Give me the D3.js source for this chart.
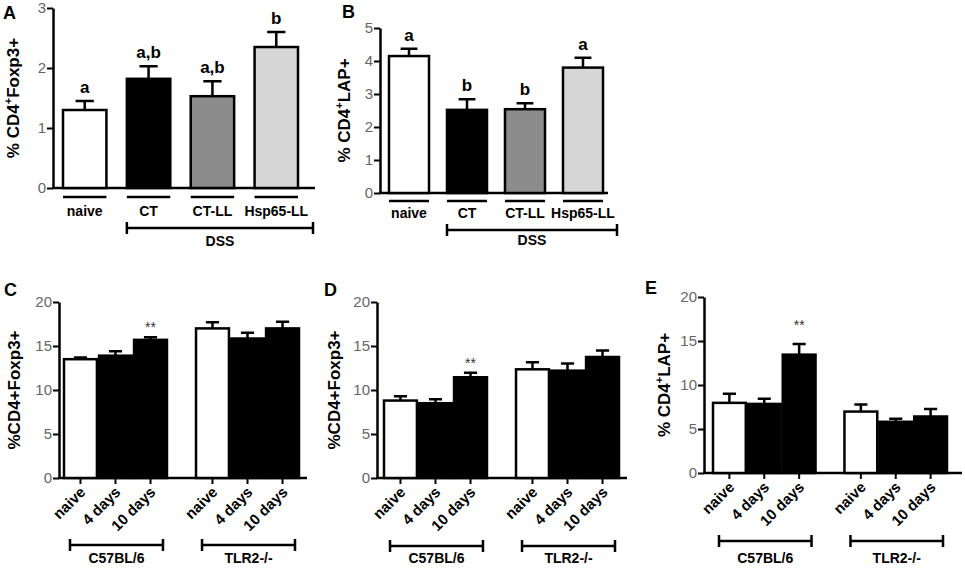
<!DOCTYPE html>
<html>
<head>
<meta charset="utf-8">
<script src="https://cdn.jsdelivr.net/npm/d3@7"></script>
<style>
  body { margin: 0; background: #fff; }
  svg text { font-family: Arial, 'Liberation Sans', sans-serif; }
</style>
</head>
<body>
<div id="fig"></div>
<script>
/* =========================================================
   DATA
========================================================= */

// panels A, B : DSS treatment groups
const dssGroups = ['naive', 'CT', 'CT-LL', 'Hsp65-LL'];
const dssLabel = 'DSS';

const valuesA = [1.3, 1.82, 1.53, 2.35];
const errorsA = [0.15, 0.21, 0.25, 0.25];
const lettersA = ['a', 'a,b', 'a,b', 'b'];

const valuesB = [4.15, 2.52, 2.54, 3.8];
const errorsB = [0.22, 0.32, 0.18, 0.3];
const lettersB = ['a', 'b', 'b', 'a'];

// panels C, D, E : strain x time point
const strains = ['C57BL/6', 'TLR2-/-'];
const timepoints = ['naive', '4 days', '10 days'];

const valuesC = [[13.5, 13.9, 15.7], [17.0, 15.85, 17.0]];
const errorsC = [[0.2, 0.5, 0.3], [0.7, 0.65, 0.75]];
const starsC = [['', '', '**'], ['', '', '']];

const valuesD = [[8.8, 8.5, 11.45], [12.35, 12.2, 13.75]];
const errorsD = [[0.5, 0.45, 0.5], [0.8, 0.8, 0.75]];
const starsD = [['', '', '**'], ['', '', '']];

const valuesE = [[7.97, 7.85, 13.45], [6.98, 5.82, 6.42]];
const errorsE = [[1.03, 0.6, 1.2], [0.8, 0.35, 0.85]];
const starsE = [['', '', '**'], ['', '', '']];

const ticksA = [0, 1, 2, 3];
const ticksB = [0, 1, 2, 3, 4, 5];
const ticks20 = [0, 5, 10, 15, 20];

// axis titles: [text, superscript?]
const titleFoxSup = [['% CD4'], ['+', true], ['Foxp3+']];
const titleLapSup = [['% CD4'], ['+', true], ['LAP+']];
const titleFox = [['%CD4+Foxp3+']];

/* =========================================================
   STYLE / LAYOUT
========================================================= */

const FILLS = {
  naive: '#ffffff',
  CT: '#000000',
  'CT-LL': '#8c8c8c',
  'Hsp65-LL': '#d6d6d6',
  '4 days': '#000000',
  '10 days': '#000000',
};
const LINE_W = 2.5;
const TICK_COLOR = '#666';

const svg = d3
  .select('#fig')
  .append('svg')
  .attr('width', 965)
  .attr('height', 569);

/* =========================================================
   SHARED PIECES
========================================================= */

function panelLetter(letter, x, y) {
  svg
    .append('text')
    .attr('x', x)
    .attr('y', y)
    .attr('font-size', 18)
    .attr('font-weight', 'bold')
    .text(letter);
}

function yAxis(p, y) {
  svg
    .append('g')
    .attr('transform', `translate(${p.axisX},0)`)
    .call(
      d3
        .axisLeft(y)
        .tickValues(p.ticks)
        .tickFormat(d3.format('d'))
        .tickSize(6)
        .tickSizeOuter(0)
        .tickPadding(1)
    )
    .call((g) => g.select('.domain').attr('stroke', '#000').attr('stroke-width', LINE_W))
    .call((g) => g.selectAll('.tick line').attr('stroke', '#000').attr('stroke-width', 2))
    .call((g) =>
      g.selectAll('.tick text').attr('fill', TICK_COLOR).attr('font-size', 15)
    );

  // x baseline
  svg
    .append('line')
    .attr('x1', p.axisX - 1)
    .attr('x2', p.axisEnd)
    .attr('y1', y(0))
    .attr('y2', y(0))
    .attr('stroke', '#000')
    .attr('stroke-width', LINE_W);

  // title
  const [r0, r1] = y.range();
  const t = svg
    .append('text')
    .attr('transform', `translate(${p.titleX},${(r0 + r1) / 2}) rotate(-90)`)
    .attr('text-anchor', 'middle')
    .attr('font-size', 17)
    .attr('font-weight', 'bold');
  p.title.forEach(([s, sup]) => {
    const ts = t.append('tspan').text(s);
    if (sup) ts.attr('font-size', 11).attr('dy', -7);
    else if (t.selectAll('tspan').size() > 1) ts.attr('dy', 7);
  });
}

function bar(x, w, v, e, y, fill, capRatio) {
  svg
    .append('rect')
    .attr('x', x)
    .attr('y', y(v))
    .attr('width', w)
    .attr('height', y(0) - y(v))
    .attr('fill', fill)
    .attr('stroke', '#000')
    .attr('stroke-width', LINE_W);

  const cx = x + w / 2;
  const cap = w * capRatio;
  svg
    .append('path')
    .attr('d', `M${cx},${y(v)}V${y(v + e)}M${cx - cap / 2},${y(v + e)}H${cx + cap / 2}`)
    .attr('stroke', '#000')
    .attr('stroke-width', LINE_W)
    .attr('fill', 'none');
  return cx;
}

function bracket(xa, xb, yy, label, labelY, capH) {
  svg
    .append('path')
    .attr('d', `M${xa},${yy - capH}V${yy + capH}M${xa},${yy}H${xb}M${xb},${yy - capH}V${yy + capH}`)
    .attr('stroke', '#000')
    .attr('stroke-width', LINE_W)
    .attr('fill', 'none');
  svg
    .append('text')
    .attr('x', (xa + xb) / 2)
    .attr('y', labelY)
    .attr('text-anchor', 'middle')
    .attr('font-size', 14)
    .attr('font-weight', 'bold')
    .text(label);
}

/* =========================================================
   PANELS A, B  (DSS)
========================================================= */

function drawDssPanel(p) {
  panelLetter(p.letter, p.letterPos[0], p.letterPos[1]);

  const y = d3.scaleLinear().domain([0, p.ticks[p.ticks.length - 1]]).range(p.yRange);
  const x = d3.scaleBand().domain(dssGroups).range(p.barRange).paddingInner(p.pad).paddingOuter(0);
  const bw = x.bandwidth();

  yAxis(p, y);

  dssGroups.forEach((g, i) => {
    const cx = bar(x(g), bw, p.values[i], p.errors[i], y, FILLS[g], 0.42);

    svg
      .append('text')
      .attr('x', cx)
      .attr('y', y(p.values[i] + p.errors[i]) - 8)
      .attr('text-anchor', 'middle')
      .attr('font-size', 17)
      .attr('font-weight', 'bold')
      .text(p.letters[i]);

    // underline + category label
    svg
      .append('line')
      .attr('x1', x(g))
      .attr('x2', x(g) + bw)
      .attr('y1', y(0) + p.under)
      .attr('y2', y(0) + p.under)
      .attr('stroke', '#000')
      .attr('stroke-width', LINE_W);
    svg
      .append('text')
      .attr('x', cx)
      .attr('y', y(0) + p.catLabel)
      .attr('text-anchor', 'middle')
      .attr('font-size', 14)
      .attr('font-weight', 'bold')
      .text(g);
  });

  const xa = x(dssGroups[1]);
  const xb = x(dssGroups[3]) + bw + p.bracketOver;
  bracket(xa, xb, y(0) + p.bracket, dssLabel, y(0) + p.bracketLabel, 6);
}

/* =========================================================
   PANELS C, D, E  (strain x time)
========================================================= */

function drawStrainPanel(p) {
  panelLetter(p.letter, p.letterPos[0], p.letterPos[1]);

  const y = d3.scaleLinear().domain([0, 20]).range(p.yRange);
  const xo = d3.scaleBand().domain(strains).range(p.barRange).paddingInner(0.22).paddingOuter(0);
  const xi = d3.scaleBand().domain(timepoints).range([0, xo.bandwidth()]).paddingInner(0.06).paddingOuter(0);
  const bw = xi.bandwidth();

  yAxis(p, y);

  strains.forEach((s, si) => {
    timepoints.forEach((t, ti) => {
      const v = p.values[si][ti];
      const e = p.errors[si][ti];
      const cx = bar(xo(s) + xi(t), bw, v, e, y, FILLS[t], 0.4);
      if (p.stars[si][ti]) {
        svg
          .append('text')
          .attr('x', cx)
          .attr('y', y(v + e) - p.starGap)
          .attr('text-anchor', 'middle')
          .attr('font-size', 14)
          .attr('fill', '#333')
          .text(p.stars[si][ti]);
      }
    });

    // x ticks + rotated labels per strain
    svg
      .append('g')
      .attr('transform', `translate(${xo(s)},${y(0)})`)
      .call(d3.axisBottom(xi).tickSize(6).tickSizeOuter(0))
      .call((g) => g.select('.domain').remove())
      .call((g) => g.selectAll('.tick line').attr('stroke', '#000').attr('stroke-width', 2))
      .call((g) =>
        g
          .selectAll('.tick text')
          .attr('x', 0)
          .attr('y', 0)
          .attr('dy', 0)
          .attr('text-anchor', 'end')
          .attr('transform', 'translate(6,15) rotate(-45)')
          .attr('fill', '#000')
          .attr('font-size', 15)
          .attr('font-weight', 'bold')
      );

    bracket(xo(s) + 6, xo(s) + xo.bandwidth() - 4, p.bracketY, s, p.bracketLabelY, 6);
  });
}

/* =========================================================
   DRAW
========================================================= */

drawDssPanel({
  letter: 'A', letterPos: [3, 19],
  axisX: 53, axisEnd: 315, yRange: [188, 8], barRange: [63, 298], pad: 0.32,
  ticks: ticksA, title: titleFoxSup, titleX: 19,
  values: valuesA, errors: errorsA, letters: lettersA,
  under: 9, catLabel: 28, bracket: 40, bracketLabel: 58, bracketOver: 15,
});

drawDssPanel({
  letter: 'B', letterPos: [342, 18],
  axisX: 380, axisEnd: 608, yRange: [193, 28], barRange: [389, 603], pad: 0.31,
  ticks: ticksB, title: titleLapSup, titleX: 350,
  values: valuesB, errors: errorsB, letters: lettersB,
  under: 8, catLabel: 25, bracket: 37, bracketLabel: 52, bracketOver: 14,
});

drawStrainPanel({
  letter: 'C', letterPos: [4, 296],
  axisX: 59, axisEnd: 307, yRange: [478, 302], barRange: [64, 299],
  ticks: ticks20, title: titleFox, titleX: 20,
  values: valuesC, errors: errorsC, stars: starsC, starGap: 5,
  bracketY: 545, bracketLabelY: 563,
});

drawStrainPanel({
  letter: 'D', letterPos: [324, 296],
  axisX: 377, axisEnd: 627, yRange: [478, 302], barRange: [384, 619],
  ticks: ticks20, title: titleFox, titleX: 340,
  values: valuesD, errors: errorsD, stars: starsD, starGap: 5,
  bracketY: 546, bracketLabelY: 563,
});

drawStrainPanel({
  letter: 'E', letterPos: [645, 294],
  axisX: 704, axisEnd: 962, yRange: [473, 297], barRange: [713, 947],
  ticks: ticks20, title: titleLapSup, titleX: 670,
  values: valuesE, errors: errorsE, stars: starsE, starGap: 14,
  bracketY: 541, bracketLabelY: 563,
});
</script>
</body>
</html>
